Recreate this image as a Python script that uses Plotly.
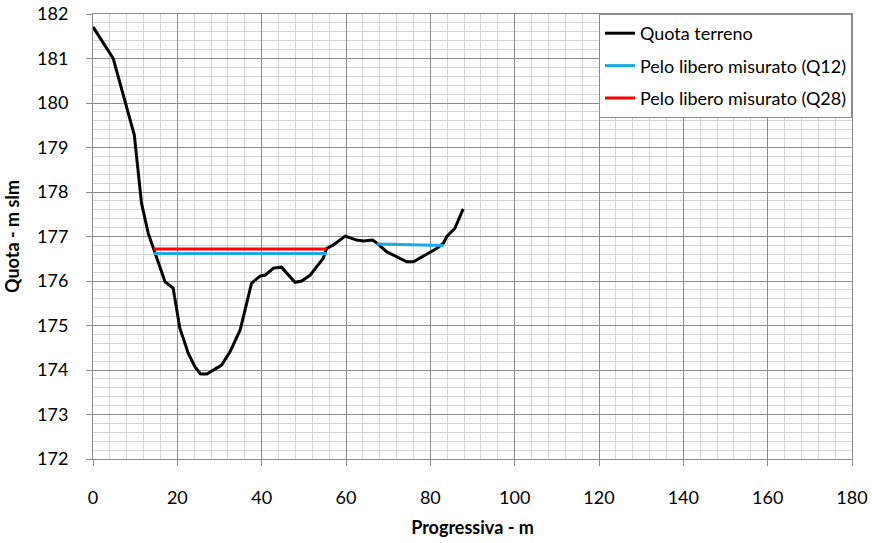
import plotly.graph_objects as go

# Ground profile (Quota terreno)
prog_terreno = [0, 4.8, 9.8, 11.5, 13.1, 14.3, 15.5, 17.1, 19.0, 20.6, 22.6, 24.2, 25.5, 27.0,
                30.5, 32.5, 34.9, 36.4, 37.6, 39.6, 40.8, 42.8, 44.7, 47.9, 49.5, 51.5, 53.4,
                54.6, 55.4, 57.0, 59.8, 62.5, 64.1, 66.3, 67.5, 69.6, 74.4, 76.0, 78.7, 81.5,
                83.1, 83.9, 85.8, 87.8]
quota_terreno = [181.71, 181.0, 179.28, 177.75, 177.07, 176.73, 176.40, 175.98, 175.84, 174.94,
                 174.37, 174.07, 173.91, 173.91, 174.11, 174.41, 174.90, 175.50, 175.95, 176.11,
                 176.13, 176.29, 176.31, 175.97, 176.0, 176.13, 176.36, 176.51, 176.73, 176.81,
                 177.01, 176.92, 176.90, 176.92, 176.84, 176.66, 176.43, 176.43, 176.58, 176.73,
                 176.85, 177.0, 177.18, 177.62]

# Measured free surface Q12 (two segments, gap between)
prog_q12 = [14.5, 55.4, None, 67.3, 83.1]
quota_q12 = [176.62, 176.62, None, 176.83, 176.80]

# Measured free surface Q28
prog_q28 = [14.3, 55.4]
quota_q28 = [176.72, 176.72]

FONT = "Lato, Carlito, Calibri, sans-serif"

fig = go.Figure()
fig.add_trace(go.Scatter(x=prog_terreno, y=quota_terreno, mode="lines", name="Quota terreno",
                         line=dict(color="black", width=3), legendgroup="a"))
fig.add_trace(go.Scatter(x=prog_q12, y=quota_q12, mode="lines", name="Pelo libero misurato (Q12)",
                         line=dict(color="#1aabe6", width=3), connectgaps=False, legendgroup="b"))
fig.add_trace(go.Scatter(x=prog_q28, y=quota_q28, mode="lines", name="Pelo libero misurato (Q28)",
                         line=dict(color="#ff0000", width=3), legendgroup="c"))

fig.update_layout(
    width=872, height=543,
    margin=dict(l=93, r=20, t=14, b=84),
    paper_bgcolor="white", plot_bgcolor="white",
    font=dict(family=FONT, size=17, color="black"),
    showlegend=True,
    legend=dict(x=1, xanchor="right", y=1, yanchor="top",
                bgcolor="white", bordercolor="#8c8c8c", borderwidth=1,
                font=dict(size=18, family=FONT), tracegroupgap=6,
                itemwidth=30),
    xaxis=dict(range=[0, 180], dtick=20, tick0=0, automargin=False,
               showgrid=True, gridcolor="#8c8c8c", gridwidth=1,
               minor=dict(dtick=4, showgrid=True, gridcolor="#d4d4d4", gridwidth=1),
               showline=True, linecolor="#8c8c8c", linewidth=1, mirror=True,
               ticks="outside", ticklen=6, tickcolor="#8c8c8c",
               ticklabelstandoff=16, zeroline=False,
               tickfont=dict(size=18),
               title=dict(text="<b>Progressiva - m</b>", font=dict(size=18), standoff=14)),
    yaxis=dict(range=[172, 182], dtick=1, tick0=172, automargin=False,
               showgrid=True, gridcolor="#8c8c8c", gridwidth=1,
               minor=dict(dtick=0.2, showgrid=True, gridcolor="#d4d4d4", gridwidth=1),
               showline=True, linecolor="#8c8c8c", linewidth=1, mirror=True,
               ticks="outside", ticklen=6, tickcolor="#8c8c8c",
               ticklabelstandoff=14, zeroline=False,
               tickfont=dict(size=18),
               title=dict(text="<b>Quota - m slm</b>", font=dict(size=18), standoff=12)),
)

fig.write_html("out.html")
